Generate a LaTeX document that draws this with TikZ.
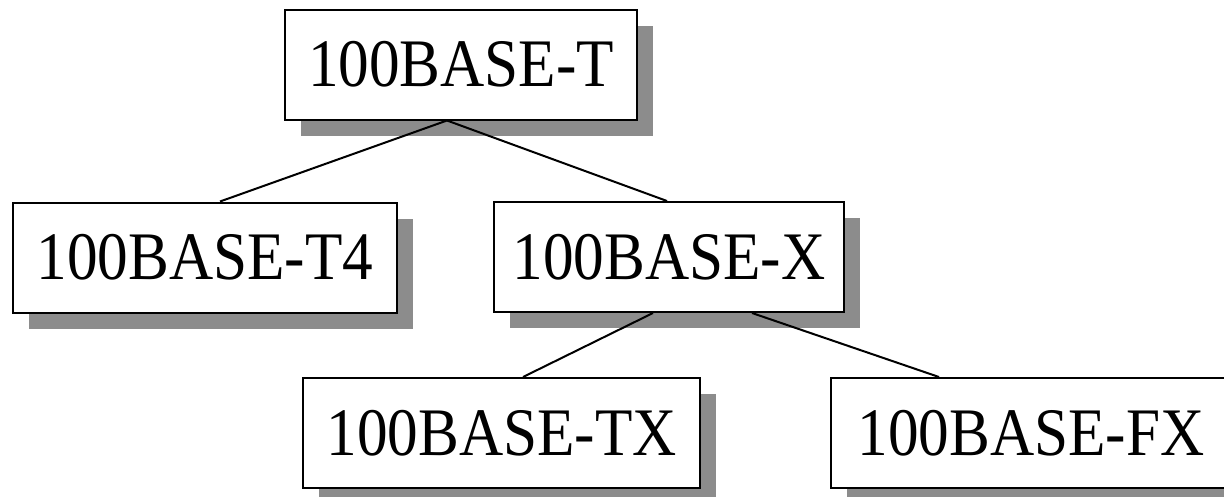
\documentclass[tikz,border=0pt]{standalone}
\usepackage{fontspec}
\setmainfont{Liberation Serif}[FakeStretch=0.9]
\usetikzlibrary{shadows}
\definecolor{shadowgray}{RGB}{140,140,140}
\begin{document}
\begin{tikzpicture}[x=1pt,y=-1pt,
  box/.style={draw=black, line width=2pt, fill=white, inner sep=0pt,
    minimum height=110pt, font=\fontsize{68}{80}\selectfont,
    drop shadow={shadow xshift=16pt, shadow yshift=-16pt, fill=shadowgray, opacity=1}},
  link/.style={line width=2pt}]
\useasboundingbox (0,0) rectangle (1224,496);
\clip (0,0) rectangle (1224,496);
\node[box, minimum width=352pt] (t)  at (461,64.5) {100BASE-T};
\node[box, minimum width=384pt] (t4) at (205,257.5) {100BASE-T4};
\node[box, minimum width=350pt] (x)  at (669,257) {100BASE-X};
\node[box, minimum width=397pt] (tx) at (501.5,433) {100BASE-TX};
\node[box, minimum width=400pt] (fx) at (1031,433) {100BASE-FX};
\draw[link] ([xshift=-14pt]t.south) -- ([xshift=15pt]t4.north);
\draw[link] ([xshift=-14pt]t.south) -- ([xshift=-2pt]x.north);
\draw[link] ([xshift=-16pt]x.south) -- ([xshift=21.5pt]tx.north);
\draw[link] ([xshift=83pt]x.south) -- ([xshift=-92pt]fx.north);
\end{tikzpicture}
\end{document}
